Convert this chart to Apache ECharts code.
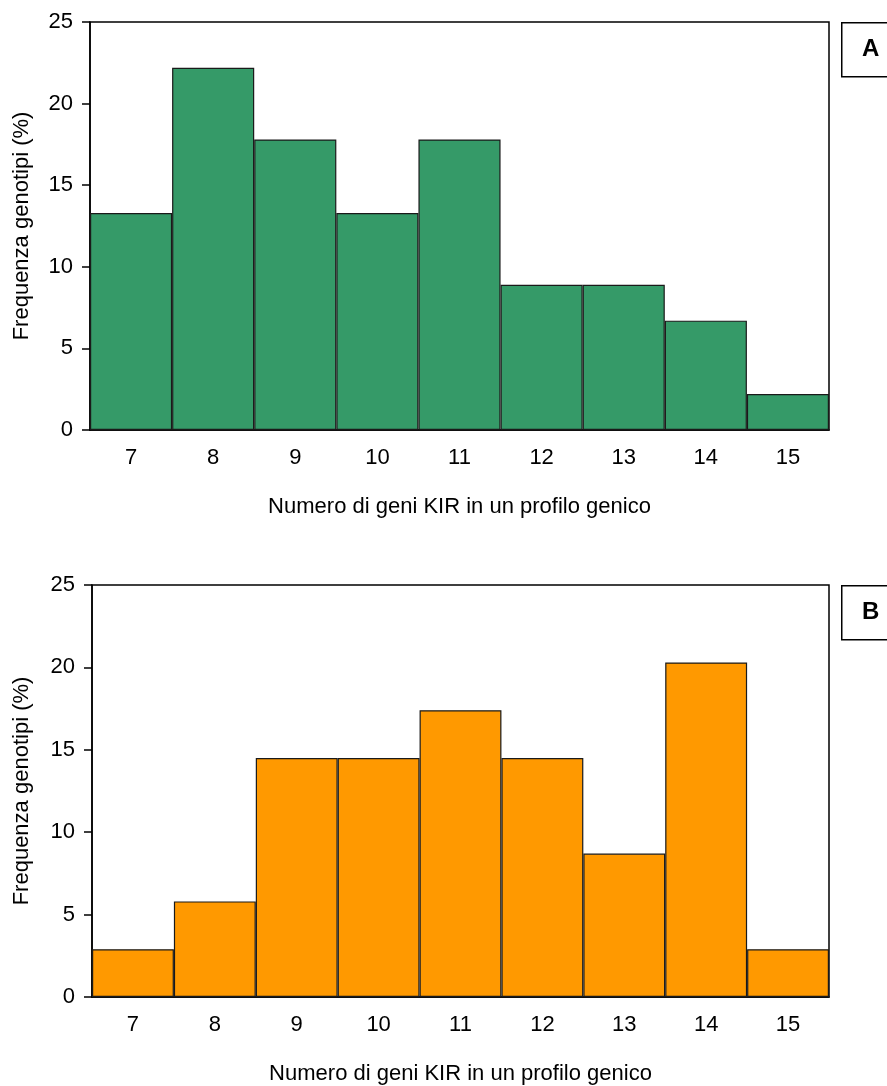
<!DOCTYPE html>
<html>
<head>
<meta charset="utf-8">
<script src="https://cdn.jsdelivr.net/npm/echarts@6/dist/echarts.min.js"></script>
<style>
  html, body { margin: 0; padding: 0; background: #fff; }
  #main { width: 887px; height: 1086px; }
</style>
</head>
<body>
<div id="main"></div>
<script>
// numero di geni KIR per profilo
var categories = ['7', '8', '9', '10', '11', '12', '13', '14', '15'];
// frequenze (%)
var freqA = [13.3, 22.2, 17.8, 13.3, 17.8, 8.9, 8.9, 6.7, 2.2];
var freqB = [2.9, 5.8, 14.5, 14.5, 17.4, 14.5, 8.7, 20.3, 2.9];
var yTicks = [0, 5, 10, 15, 20, 25];

var font = 'Arial, "Liberation Sans", sans-serif';
var chartDom = document.getElementById('main');
var myChart = echarts.init(chartDom);

function xAxis(idx) {
    return {
        type: 'category',
        gridIndex: idx,
        data: categories,
        name: 'Numero di geni KIR in un profilo genico',
        nameLocation: 'middle',
        nameGap: 66,
        nameTextStyle: { fontFamily: font, fontSize: 22, color: '#000' },
        axisLine: { show: true, lineStyle: { color: '#000', width: 1.5 } },
        axisTick: { show: false },
        axisLabel: { fontFamily: font, fontSize: 22, color: '#000', margin: 17 }
    };
}

function yAxis(idx, gap) {
    return {
        type: 'value',
        gridIndex: idx,
        min: yTicks[0],
        max: yTicks[yTicks.length - 1],
        interval: 5,
        name: 'Frequenza genotipi (%)',
        nameLocation: 'middle',
        nameGap: gap,
        nameTextStyle: { fontFamily: font, fontSize: 22, color: '#000' },
        splitLine: { show: false },
        axisLine: { show: true, lineStyle: { color: '#000', width: 1.5 } },
        axisTick: { show: true, length: 8, lineStyle: { color: '#000', width: 1.5 } },
        axisLabel: { fontFamily: font, fontSize: 22, color: '#000', margin: 17 }
    };
}

function letterBox(letter, top) {
    return {
        type: 'group',
        left: 841,
        top: top,
        children: [
            { type: 'rect', shape: { x: 0, y: 0, width: 60, height: 54 },
              style: { fill: '#fff', stroke: '#000', lineWidth: 1.5 } },
            { type: 'text', x: 29, y: 27,
              style: { text: letter, font: 'bold 24px ' + font, fill: '#000',
                       textAlign: 'center', textVerticalAlign: 'middle' } }
        ]
    };
}

var option = {
    backgroundColor: '#fff',
    animation: false,
    grid: [
        { left: 90, right: 58, top: 22, height: 408, show: true,
          outerBoundsMode: 'none', containLabel: false,
          borderColor: '#000', borderWidth: 1.5, backgroundColor: '#fff' },
        { left: 92, right: 58, top: 585, height: 412, show: true,
          outerBoundsMode: 'none', containLabel: false,
          borderColor: '#000', borderWidth: 1.5, backgroundColor: '#fff' }
    ],
    xAxis: [xAxis(0), xAxis(1)],
    yAxis: [yAxis(0, 57), yAxis(1, 59)],
    graphic: [letterBox('A', 22), letterBox('B', 585)],
    series: [
        {
            type: 'bar',
            xAxisIndex: 0,
            yAxisIndex: 0,
            data: freqA,
            barCategoryGap: 0,
            itemStyle: { color: '#359a68', borderColor: '#1a1a1a', borderWidth: 1.2 }
        },
        {
            type: 'bar',
            xAxisIndex: 1,
            yAxisIndex: 1,
            data: freqB,
            barCategoryGap: 0,
            itemStyle: { color: '#ff9900', borderColor: '#1a1a1a', borderWidth: 1.2 }
        }
    ]
};

option && myChart.setOption(option);
</script>
</body>
</html>
